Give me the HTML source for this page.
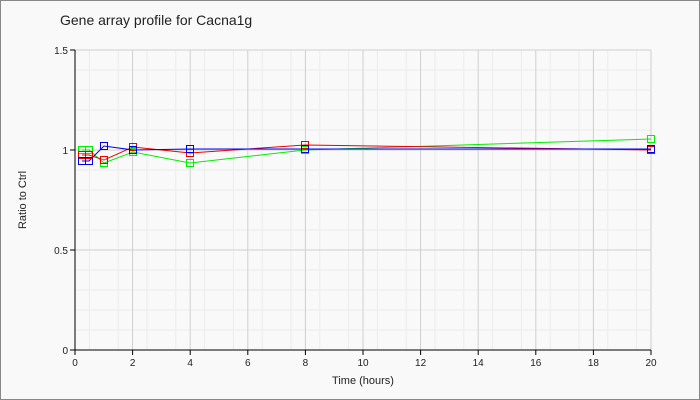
<!DOCTYPE html><html><head><style>body{margin:0}svg{display:block;font-family:"Liberation Sans",sans-serif}</style></head><body>
<svg width="700" height="400" viewBox="0 0 700 400">
<rect x="0.5" y="0.5" width="699" height="399" fill="#f9f9f9" stroke="#888"/>
<text x="60" y="25" font-size="14" fill="#222">Gene array profile for Cacna1g</text>
<g stroke="#ececec" stroke-width="1">
<path d="M89.4 50V350M118.2 50V350M147 50V350M175.8 50V350M204.6 50V350M233.4 50V350M262.2 50V350M291 50V350M319.8 50V350M348.6 50V350M377.4 50V350M406.2 50V350M435 50V350M463.8 50V350M492.6 50V350M521.4 50V350M550.2 50V350M579 50V350M607.8 50V350M636.6 50V350"/>
<path d="M75 70H651M75 90H651M75 110H651M75 130H651M75 170H651M75 190H651M75 210H651M75 230H651M75 270H651M75 290H651M75 310H651M75 330H651"/>
</g>
<g stroke="#cfcfcf"><path d="M132.6 50V350M190.2 50V350M247.8 50V350M305.4 50V350M363 50V350M420.6 50V350M478.2 50V350M535.8 50V350M593.4 50V350M651 50V350M75 50H651M75 150H651M75 250H651"/></g>
<path d="M75 50V350H651" stroke="#000" fill="none"/>
<g stroke="#000"><path d="M70 50H75M70 150H75M70 250H75M70 350H75M75 350v5M132.6 350v5M190.2 350v5M247.8 350v5M305.4 350v5M363 350v5M420.6 350v5M478.2 350v5M535.8 350v5M593.4 350v5M651 350v5"/></g>
<g font-size="10" fill="#222" text-anchor="end"><text x="68" y="54">1.5</text><text x="68" y="154">1</text><text x="68" y="254">0.5</text><text x="68" y="354">0</text></g>
<g font-size="10" fill="#222" text-anchor="middle"><text x="75" y="366">0</text><text x="132.6" y="366">2</text><text x="190.2" y="366">4</text><text x="247.8" y="366">6</text><text x="305.4" y="366">8</text><text x="363" y="366">10</text><text x="420.6" y="366">12</text><text x="478.2" y="366">14</text><text x="535.8" y="366">16</text><text x="593.4" y="366">18</text><text x="651" y="366">20</text></g>
<text x="363" y="384" font-size="11" text-anchor="middle" fill="#222">Time (hours)</text>
<text transform="translate(26 200) rotate(-90)" font-size="11" text-anchor="middle" fill="#222">Ratio to Ctrl</text>
<g fill="none">
<polyline stroke="#00ee00" points="82,150 89,150 104,163 133,152 190,163 305,150 651,139"/>
<polyline stroke="#ee0000" points="82,155 89,155 104,160 133,147 190,153 305,145 651,150"/>
<polyline stroke="#0000ee" points="82,161 89,161 104,146 133,150 190,149 305,149 651,149"/>
<g stroke="#00ee00"><rect x="78.5" y="146.5" width="7" height="7"/><rect x="85.5" y="146.5" width="7" height="7"/><rect x="100.5" y="159.5" width="7" height="7"/><rect x="129.5" y="148.5" width="7" height="7"/><rect x="186.5" y="159.5" width="7" height="7"/><rect x="301.5" y="146.5" width="7" height="7"/><rect x="647.5" y="135.5" width="7" height="7"/></g>
<g stroke="#ee0000"><rect x="78.5" y="151.5" width="7" height="7"/><rect x="85.5" y="151.5" width="7" height="7"/><rect x="100.5" y="156.5" width="7" height="7"/><rect x="129.5" y="143.5" width="7" height="7"/><rect x="186.5" y="149.5" width="7" height="7"/><rect x="301.5" y="141.5" width="7" height="7"/><rect x="647.5" y="146.5" width="7" height="7"/></g>
<g stroke="#0000ee"><rect x="78.5" y="157.5" width="7" height="7"/><rect x="85.5" y="157.5" width="7" height="7"/><rect x="100.5" y="142.5" width="7" height="7"/><rect x="129.5" y="146.5" width="7" height="7"/><rect x="186.5" y="145.5" width="7" height="7"/><rect x="301.5" y="145.5" width="7" height="7"/><rect x="647.5" y="145.5" width="7" height="7"/></g>
</g>
</svg></body></html>
